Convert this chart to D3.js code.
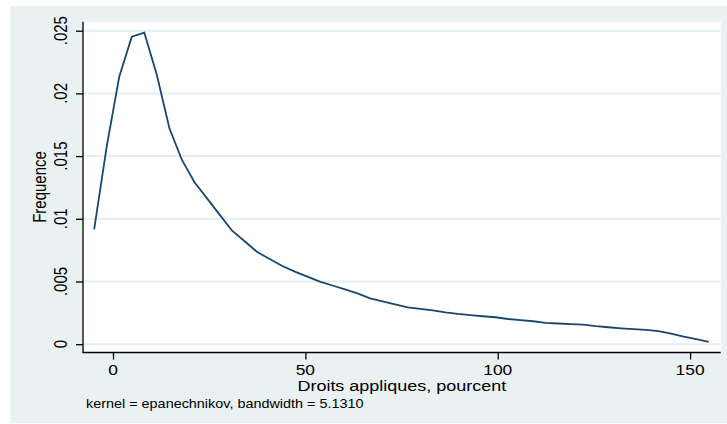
<!DOCTYPE html>
<html><head><meta charset="utf-8">
<script src="https://cdn.jsdelivr.net/npm/d3@7"></script>
<style>body{margin:0;background:#fff}svg{display:block}text{font-family:"Liberation Sans",Arial,sans-serif;fill:#000}</style>
</head><body><div id="c"></div>
<script>
const xStart = -4.9, xStep = 3.26;
const density = [0.00916,0.01575,0.02133,0.02452,0.02484,0.02147,0.01722,0.01469,0.01291,0.01163,
0.01033,0.00905,0.00821,0.00735,0.00680,0.00624,0.00579,0.00539,0.00499,0.00468,
0.00437,0.00405,0.00366,0.00341,0.00317,0.00293,0.00282,0.00270,0.00254,0.00241,
0.00232,0.00223,0.00215,0.00201,0.00192,0.00183,0.00170,0.00165,0.00160,0.00156,
0.00144,0.00135,0.00127,0.00120,0.00115,0.00105,0.00085,0.00061,0.00040,0.00018];
const xGrid = density.map((d,i)=>+(xStart + xStep*i).toFixed(2));
const xTicks = [0,50,100,150];
const yTicks = [0,0.005,0.01,0.015,0.02,0.025];
const yTickLabels = ["0",".005",".01",".015",".02",".025"];
const xTitle = "Droits appliques, pourcent";
const yTitle = "Frequence";
const note = "kernel = epanechnikov, bandwidth = 5.1310";

const W=727,H=424, SX=1.2;
const svg=d3.select("#c").append("svg").attr("width",W).attr("height",H);
svg.append("rect").attr("x",10).attr("y",6).attr("width",W-10).attr("height",417).attr("fill","#e9f1f3");
const L=83,R=720.7,T=21.7,B=352.5;
svg.append("rect").attr("x",L).attr("y",T).attr("width",R-L).attr("height",B-T).attr("fill","#fff");
const x=d3.scaleLinear().domain([-7.8,157.96]).range([L,R]);
const y=d3.scaleLinear().domain([0,0.025]).range([344.2,30.7]);
// grid
svg.append("g").selectAll("line").data(yTicks).join("line")
 .attr("x1",L).attr("x2",R).attr("y1",d=>y(d)).attr("y2",d=>y(d))
 .attr("stroke","#e6eef1").attr("stroke-width",2);
// axes
const yAx=svg.append("g").attr("transform",`translate(${L},0)`)
 .call(d3.axisLeft(y).tickValues(yTicks).tickSize(7).tickFormat(""));
yAx.select(".domain").attr("d",`M0,${T}V${B+0.5}`);
const xAx=svg.append("g").attr("transform",`translate(0,${B})`)
 .call(d3.axisBottom(x).tickValues(xTicks).tickSize(7).tickFormat(""));
xAx.select(".domain").attr("d",`M${L-0.5},0H${R}`);
svg.selectAll(".domain,.tick line").attr("stroke","#000").attr("stroke-width",1.3);
// y tick labels
svg.append("g").selectAll("text").data(yTicks).join("text")
 .attr("transform",(d)=>`translate(67,${y(d)}) scale(${SX},1) rotate(-90)`)
 .attr("text-anchor","middle").attr("font-size",15).text((d,i)=>yTickLabels[i]);
// x tick labels
svg.append("g").selectAll("text").data(xTicks).join("text")
 .attr("transform",d=>`translate(${x(d)},374.5) scale(${SX},1)`)
 .attr("text-anchor","middle").attr("font-size",14.5).text(d=>d);
svg.append("text").attr("transform",`translate(${(L+R)/2},391) scale(${SX},1)`)
 .attr("text-anchor","middle").attr("font-size",15).text(xTitle);
svg.append("text").attr("transform",`translate(46,187) scale(${SX},1) rotate(-90)`)
 .attr("text-anchor","middle").attr("font-size",15).text(yTitle);
svg.append("text").attr("transform",`translate(86,408) scale(${SX},1)`)
 .attr("font-size",12).text(note);
// curve
const pts=density.map((d,i)=>[xGrid[i],d]);
svg.append("path").datum(pts).attr("fill","none").attr("stroke","#1a476f").attr("stroke-width",1.8)
 .attr("stroke-linejoin","miter")
 .attr("d",d3.line().x(d=>x(d[0])).y(d=>y(d[1])));
</script></body></html>
